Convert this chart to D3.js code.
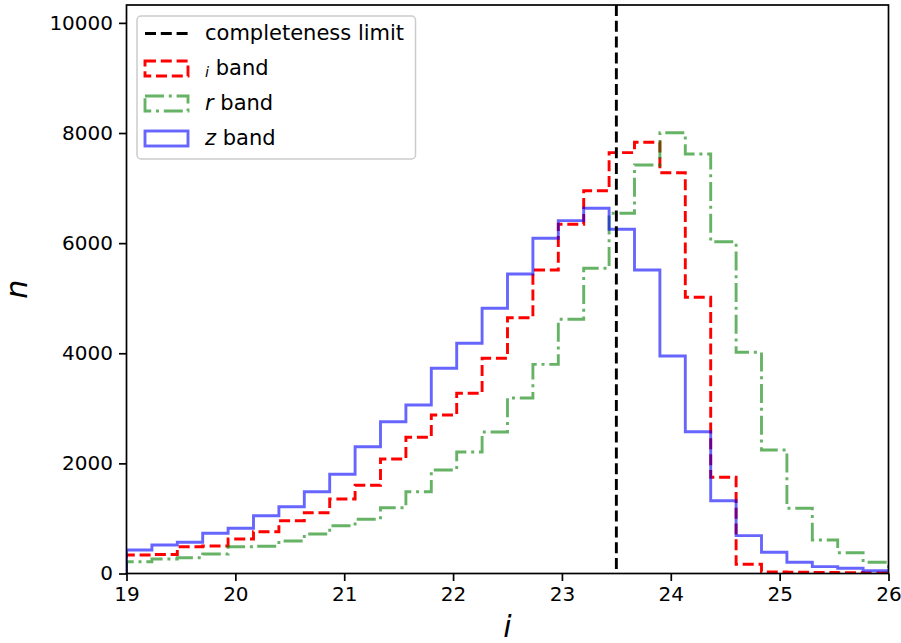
<!DOCTYPE html>
<html>
<head>
<meta charset="utf-8">
<script src="https://cdn.jsdelivr.net/npm/d3@7/dist/d3.min.js"></script>
<style>
  html, body { margin: 0; padding: 0; background: #fff; }
  svg { display: block; font-family: 'DejaVu Sans', sans-serif; }
</style>
</head>
<body>
<div id="chart"></div>
<script>
// histogram bins: 30 equal bins between 19 and 26
const binLo = 19, binHi = 26, nBins = 30;
const binEdges = d3.range(nBins + 1).map(k => binLo + k * (binHi - binLo) / nBins);

// counts per bin
const iBand = [336, 345, 487, 500, 626, 759, 959, 1104, 1353, 1602, 2080, 2474, 2879, 3273, 3908,
               4646, 5512, 6342, 6952, 7643, 7831, 7279, 5016, 1747, 167, 30, 25, 20, 15, 12];
const rBand = [214, 263, 287, 354, 487, 495, 590, 717, 868, 984, 1195, 1486, 1880, 2207, 2570,
               3188, 3799, 4617, 5543, 6542, 7419, 8006, 7619, 6026, 4017, 2243, 1184, 608, 378, 203];
const zBand = [427, 518, 567, 730, 821, 1050, 1213, 1486, 1802, 2303, 2757, 3060, 3728, 4181, 4817,
               5440, 6088, 6408, 6633, 6251, 5512, 3950, 2575, 1322, 687, 385, 204, 124, 94, 51];

const completeness = 23.5;
const xTicks = [19, 20, 21, 22, 23, 24, 25, 26];
const yTicks = [0, 2000, 4000, 6000, 8000, 10000];

const W = 901, H = 643;
const margin = { top: 5, right: 12.5, bottom: 69.5, left: 126.5 },
      width = W - margin.left - margin.right,
      height = H - margin.top - margin.bottom;

const lw = 2.9;   // line width of the histograms

const svg = d3.select('#chart').append('svg')
  .attr('width', W).attr('height', H);

const g = svg.append('g').attr('transform', `translate(${margin.left},${margin.top})`);

// scales
const x = d3.scaleLinear().domain([19, 26]).range([0, width]);
const y = d3.scaleLinear().domain([0, 10325]).range([height, 0]);

svg.append('defs').append('clipPath').attr('id', 'plotclip')
  .append('rect').attr('width', width).attr('height', height);

// step outline like matplotlib histtype='step'
function stepPoints(vals) {
  const pts = [[binEdges[0], 0]];
  vals.forEach((v, i) => {
    pts.push([binEdges[i], v]);
    pts.push([binEdges[i + 1], v]);
  });
  pts.push([binEdges[vals.length], 0]);
  return pts;
}
const line = d3.line().x(d => x(d[0])).y(d => y(d[1]));

const series = [
  { name: 'i', vals: iBand, color: '#ff0000', opacity: 1, dash: '11 4.8' },
  { name: 'r', vals: rBand, color: '#008000', opacity: 0.6, dash: '19 4.8 3 4.8' },
  { name: 'z', vals: zBand, color: '#0000ff', opacity: 0.6, dash: null }
];

const plot = g.append('g').attr('clip-path', 'url(#plotclip)');

plot.selectAll('path.hist')
  .data(series)
  .enter()
  .append('path')
  .attr('class', 'hist')
  .attr('d', d => line(stepPoints(d.vals)))
  .attr('fill', 'none')
  .attr('stroke', d => d.color)
  .attr('stroke-opacity', d => d.opacity)
  .attr('stroke-width', lw)
  .attr('stroke-linejoin', 'miter')
  .attr('stroke-dasharray', d => d.dash);

// completeness limit
plot.append('line')
  .attr('x1', x(completeness)).attr('x2', x(completeness))
  .attr('y1', 0).attr('y2', height)
  .attr('stroke', '#000')
  .attr('stroke-width', lw)
  .attr('stroke-dasharray', '11 4.8');

// axes
const xAxis = g.append('g')
  .attr('transform', `translate(0,${height})`)
  .call(d3.axisBottom(x).tickValues(xTicks).tickFormat(d3.format('d')).tickSize(7.5).tickPadding(6));
const yAxis = g.append('g')
  .call(d3.axisLeft(y).tickValues(yTicks).tickFormat(d => d).tickSize(7.5).tickPadding(6));

[xAxis, yAxis].forEach(a => {
  a.select('.domain').remove();
  a.selectAll('.tick line').attr('stroke', '#000').attr('stroke-width', 1.7);
  a.selectAll('.tick text')
    .attr('fill', '#000')
    .style('font-family', "'DejaVu Sans', sans-serif")
    .style('font-size', '20px');
});

// frame
g.append('rect')
  .attr('width', width).attr('height', height)
  .attr('fill', 'none').attr('stroke', '#000').attr('stroke-width', 1.7);

// axis labels
svg.append('text')
  .attr('x', margin.left + width / 2)
  .attr('y', 637)
  .attr('text-anchor', 'middle')
  .style('font-size', '30px')
  .style('font-style', 'italic')
  .text('i');

svg.append('text')
  .attr('transform', `translate(27,${margin.top + height / 2}) rotate(-90)`)
  .attr('text-anchor', 'middle')
  .style('font-size', '30px')
  .style('font-style', 'italic')
  .text('n');

// legend
const legend = svg.append('g');
legend.append('rect')
  .attr('x', 137).attr('y', 16)
  .attr('width', 278.5).attr('height', 143)
  .attr('rx', 4)
  .attr('fill', '#fff').attr('fill-opacity', 0.8)
  .attr('stroke', '#cccccc').attr('stroke-width', 1.5);

const rowY = [33.5, 68.5, 103.5, 138.5];
const hx0 = 145, hx1 = 188, textX = 205;

legend.append('line')
  .attr('x1', hx0).attr('x2', hx1)
  .attr('y1', rowY[0]).attr('y2', rowY[0])
  .attr('stroke', '#000').attr('stroke-width', lw)
  .attr('stroke-dasharray', '11 4.8');
legend.append('text')
  .attr('x', textX).attr('y', rowY[0] + 6)
  .style('font-size', '21px').attr('fill', '#000')
  .text('completeness limit');

series.forEach((s, i) => {
  const cy = rowY[i + 1];
  legend.append('rect')
    .attr('x', hx0).attr('y', cy - 7.5)
    .attr('width', hx1 - hx0).attr('height', 15)
    .attr('fill', 'none')
    .attr('stroke', s.color)
    .attr('stroke-opacity', s.opacity)
    .attr('stroke-width', lw)
    .attr('stroke-dasharray', s.dash);
  const t = legend.append('text')
    .attr('x', textX).attr('y', cy + 6)
    .style('font-size', '21px').attr('fill', '#000');
  if (s.name === 'i') {
    t.append('tspan').style('font-style', 'italic').style('font-size', '14.5px').attr('dy', 2).text('i');
    t.append('tspan').attr('dy', -2).text('\u00a0band');
  } else {
    t.append('tspan').style('font-style', 'italic').text(s.name);
    t.append('tspan').text('\u00a0band');
  }
});
</script>
</body>
</html>
